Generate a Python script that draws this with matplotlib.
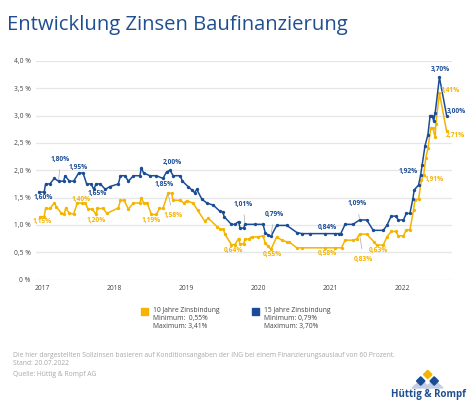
import numpy as np
import matplotlib
matplotlib.use("Agg")
import matplotlib.pyplot as plt
from matplotlib.patches import Polygon, Rectangle

# ---------------- data ----------------
dates_15 = [2016.96, 2017.03, 2017.05, 2017.11, 2017.17, 2017.23, 2017.30, 2017.32, 2017.38, 2017.44,
            2017.51, 2017.57, 2017.62, 2017.68, 2017.72, 2017.75, 2017.81, 2017.88, 2017.94, 2018.06,
            2018.09, 2018.15, 2018.20, 2018.27, 2018.36, 2018.38, 2018.41, 2018.50, 2018.59, 2018.68,
            2018.73, 2018.78, 2018.82, 2018.92, 2018.95, 2019.03, 2019.08, 2019.12, 2019.15, 2019.22,
            2019.29, 2019.38, 2019.47, 2019.51, 2019.53, 2019.63, 2019.68, 2019.73, 2019.75, 2019.80,
            2019.82, 2019.96, 2020.07, 2020.10, 2020.14, 2020.18, 2020.26, 2020.40, 2020.54, 2020.61,
            2020.72, 2020.93, 2021.07, 2021.12, 2021.15, 2021.21, 2021.32, 2021.41, 2021.51, 2021.60,
            2021.74, 2021.79, 2021.85, 2021.91, 2021.95, 2022.02, 2022.06, 2022.11, 2022.15, 2022.17,
            2022.23, 2022.26, 2022.28, 2022.32, 2022.36, 2022.39, 2022.42, 2022.44, 2022.46, 2022.52,
            2022.62]
rates_15 = [1.60, 1.60, 1.75, 1.75, 1.85, 1.80, 1.80, 1.90, 1.80, 1.80,
            1.95, 1.95, 1.75, 1.75, 1.65, 1.75, 1.75, 1.65, 1.70, 1.75,
            1.90, 1.90, 1.80, 1.90, 1.90, 2.05, 1.95, 1.90, 1.90, 1.85,
            1.97, 2.00, 1.90, 1.90, 1.80, 1.70, 1.64, 1.59, 1.65, 1.47,
            1.40, 1.36, 1.25, 1.24, 1.15, 1.01, 1.01, 1.06, 0.94, 0.94,
            1.01, 1.01, 1.01, 0.86, 0.81, 0.79, 0.99, 0.99, 0.86, 0.84,
            0.84, 0.84, 0.84, 0.84, 0.84, 1.01, 1.01, 1.09, 1.09, 0.90,
            0.90, 0.99, 1.16, 1.16, 1.09, 1.09, 1.21, 1.21, 1.47, 1.64,
            1.73, 1.92, 2.10, 2.45, 2.65, 3.00, 3.00, 2.90, 3.04, 3.70,
            3.00]

dates_10 = [2016.97, 2017.03, 2017.05, 2017.11, 2017.17, 2017.20, 2017.27, 2017.31, 2017.33, 2017.38,
            2017.44, 2017.49, 2017.55, 2017.60, 2017.64, 2017.70, 2017.75, 2017.77, 2017.85, 2017.90,
            2018.06, 2018.09, 2018.14, 2018.20, 2018.27, 2018.36, 2018.38, 2018.41, 2018.46, 2018.52,
            2018.59, 2018.63, 2018.68, 2018.75, 2018.80, 2018.82, 2018.92, 2018.97, 2019.01, 2019.10,
            2019.16, 2019.26, 2019.31, 2019.43, 2019.47, 2019.52, 2019.54, 2019.63, 2019.68, 2019.73,
            2019.75, 2019.80, 2019.82, 2019.87, 2019.91, 2020.00, 2020.07, 2020.10, 2020.14, 2020.18,
            2020.26, 2020.33, 2020.40, 2020.43, 2020.54, 2020.61, 2020.93, 2021.07, 2021.16, 2021.21,
            2021.32, 2021.37, 2021.41, 2021.51, 2021.61, 2021.65, 2021.74, 2021.79, 2021.85, 2021.91,
            2021.95, 2022.02, 2022.06, 2022.11, 2022.16, 2022.18, 2022.23, 2022.27, 2022.30, 2022.33,
            2022.36, 2022.40, 2022.43, 2022.46, 2022.47, 2022.52, 2022.62]
rates_10 = [1.15, 1.15, 1.30, 1.30, 1.40, 1.33, 1.21, 1.20, 1.31, 1.21,
            1.20, 1.40, 1.40, 1.40, 1.29, 1.29, 1.19, 1.30, 1.30, 1.21,
            1.31, 1.45, 1.45, 1.29, 1.40, 1.40, 1.50, 1.40, 1.40, 1.19,
            1.19, 1.30, 1.30, 1.58, 1.58, 1.45, 1.45, 1.40, 1.44, 1.40,
            1.27, 1.07, 1.12, 0.97, 0.92, 0.92, 0.83, 0.64, 0.64, 0.75,
            0.65, 0.65, 0.74, 0.74, 0.78, 0.78, 0.80, 0.67, 0.61, 0.55,
            0.78, 0.72, 0.69, 0.69, 0.58, 0.58, 0.58, 0.58, 0.58, 0.72,
            0.72, 0.74, 0.83, 0.83, 0.69, 0.63, 0.63, 0.78, 0.88, 0.88,
            0.80, 0.80, 0.91, 0.91, 1.27, 1.46, 1.47, 1.82, 1.91, 2.22,
            2.40, 2.77, 2.77, 2.60, 2.85, 3.41, 2.71]

year_ticks = [2017, 2018, 2019, 2020, 2021, 2022]
y_ticks = [0, 0.5, 1.0, 1.5, 2.0, 2.5, 3.0, 3.5, 4.0]
y_tick_labels = ["0 %", "0,5 %", "1,0 %", "1,5 %", "2,0 %", "2,5 %", "3,0 %", "3,5 %", "4,0 %"]

series_names = ["10 Jahre Zinsbindung", "15 Jahre Zinsbindung"]
min_labels = ["Minimum:  0,55%", "Minimum: 0,79%"]
max_labels = ["Maximum: 3,41%", "Maximum: 3,70%"]

# (date near point, text, dx px, dy px, leader)
labels_15 = [(2016.96, "1,60%", 4, -5, False), (2017.23, "1,80%", 2, 22, True),
             (2017.51, "1,95%", 0, 5, False), (2017.72, "1,65%", 3, -4, False),
             (2018.78, "2,00%", 2, 8, False), (2018.68, "1,85%", 1, -6, False),
             (2019.82, "1,01%", -2, 20, True), (2020.18, "0,79%", 3, 22, True),
             (2020.93, "0,84%", 2, 6, False), (2021.41, "1,09%", -2, 16, True),
             (2022.26, "1,92%", -12, 3, False), (2022.52, "3,70%", 1, 8, False),
             (2022.62, "3,00%", 10, 4, False)]
labels_10 = [(2016.97, "1,15%", 2, -5, False), (2017.55, "1,40%", 0, 4, False),
             (2017.75, "1,20%", 0, -6, False), (2018.52, "1,19%", 0, -6, False),
             (2018.75, "1,58%", 5, -22, True), (2019.63, "0,64%", 2, -6, False),
             (2020.18, "0,55%", 1, -5, False), (2020.93, "0,58%", 2, -6, False),
             (2021.41, "0,83%", 4, -25, True), (2021.65, "0,63%", 2, -5, False),
             (2022.30, "1,91%", 11, -4, False), (2022.52, "3,41%", 11, 3, False),
             (2022.62, "2,71%", 9, -4, False)]

# ---------------- style ----------------
W, H = 474, 408
YELLOW = "#f4b400"
BLUE = "#1b4d96"
TITLE_BLUE = "#1f4f8f"
GRID = "#e6e6e6"
FONT = "Open Sans"
plt.rcParams["font.family"] = [FONT, "DejaVu Sans"]

fig = plt.figure(figsize=(W / 100, H / 100), dpi=100)
fig.patch.set_facecolor("white")

def fx(px):
    return px / W

def fy(py):
    return 1 - py / H

ax_left, ax_right, ax_top, ax_bot = 36, 452, 61, 279.5
ax = fig.add_axes([fx(ax_left), fy(ax_bot), (ax_right - ax_left) / W, (ax_bot - ax_top) / H])
x0 = 2017 + (ax_left - 42) / 72
x1 = 2017 + (ax_right - 42) / 72
ax.set_xlim(x0, x1)
ax.set_ylim(0, 4.0)
for s in ax.spines.values():
    s.set_visible(False)
ax.set_yticks(y_ticks)
ax.set_yticklabels(y_tick_labels)
ax.set_xticks(year_ticks)
ax.set_xticklabels([str(y) for y in year_ticks])
ax.tick_params(axis="both", length=0, labelsize=4.8, colors="#444444")
ax.tick_params(axis="y", pad=4)
ax.tick_params(axis="x", pad=4)
ax.grid(axis="y", color=GRID, lw=0.9)
ax.set_axisbelow(True)

ax.plot(dates_10, rates_10, color=YELLOW, lw=1.1, marker="o", ms=1.4, zorder=3)
ax.plot(dates_15, rates_15, color=BLUE, lw=1.1, marker="o", ms=1.4, zorder=4)

def add_labels(dates, rates, specs, color):
    d = np.asarray(dates)
    for date, text, dx, dy, leader in specs:
        i = int(np.argmin(np.abs(d - date)))
        props = None
        if leader:
            props = dict(arrowstyle="-", color="#aaaaaa", lw=0.5, shrinkA=3, shrinkB=1)
        ax.annotate(text, xy=(dates[i], rates[i]), xytext=(dx, dy), textcoords="offset pixels",
                    ha="center", va="center", fontsize=4.8, fontweight="bold", color=color,
                    arrowprops=props, zorder=5, annotation_clip=False)

add_labels(dates_15, rates_15, labels_15, BLUE)
add_labels(dates_10, rates_10, labels_10, YELLOW)

# ---------------- title ----------------
fig.text(fx(7), fy(25), "Entwicklung Zinsen Baufinanzierung", fontsize=14.6, color=TITLE_BLUE,
         ha="left", va="center")

# ---------------- legend ----------------
for k, (sx, col) in enumerate([(141, YELLOW), (252, BLUE)]):
    fig.patches.append(Rectangle((fx(sx), fy(315)), 7 / W, 7 / H, transform=fig.transFigure,
                                 color=col, figure=fig))
    tx = sx + 12
    fig.text(fx(tx), fy(310.5), series_names[k], fontsize=4.9, color="#444444", va="center")
    fig.text(fx(tx), fy(318.5), min_labels[k], fontsize=4.9, color="#444444", va="center")
    fig.text(fx(tx), fy(326.5), max_labels[k], fontsize=4.9, color="#444444", va="center")

# ---------------- footer ----------------
foot = "#a8a8a8"
fig.text(fx(13), fy(355.5), "Die hier dargestellten Sollzinsen basieren auf Konditionsangaben der ING bei einem "
         "Finanzierungsauslauf von 60 Prozent.", fontsize=4.9, color=foot, va="center")
fig.text(fx(13), fy(363.5), "Stand: 20.07.2022", fontsize=4.9, color=foot, va="center")
fig.text(fx(13), fy(375), "Quelle: Hüttig & Rompf AG", fontsize=4.9, color=foot, va="center")

# ---------------- logo ----------------
def diamond(cx, cy, r, col):
    pts = [(fx(cx), fy(cy - r)), (fx(cx + r), fy(cy)), (fx(cx), fy(cy + r)), (fx(cx - r), fy(cy))]
    fig.patches.append(Polygon(pts, closed=True, transform=fig.transFigure, color=col, figure=fig))

def tri(pts, col):
    fig.patches.append(Polygon([(fx(a), fy(b)) for a, b in pts], closed=True,
                               transform=fig.transFigure, color=col, figure=fig))

tri([(412, 388), (421, 380), (430, 388)], "#c3cde3")
tri([(425, 388), (434, 380), (443, 388)], "#c3cde3")
diamond(427.7, 374.5, 4.2, "#f4b400")
diamond(420.7, 381, 4.2, BLUE)
diamond(434.2, 381, 4.2, BLUE)
fig.text(fx(428), fy(394), "Hüttig & Rompf", fontsize=7.0, fontweight="bold", color=TITLE_BLUE,
         ha="center", va="center")

fig.savefig("out.png", dpi=100, facecolor="white")
